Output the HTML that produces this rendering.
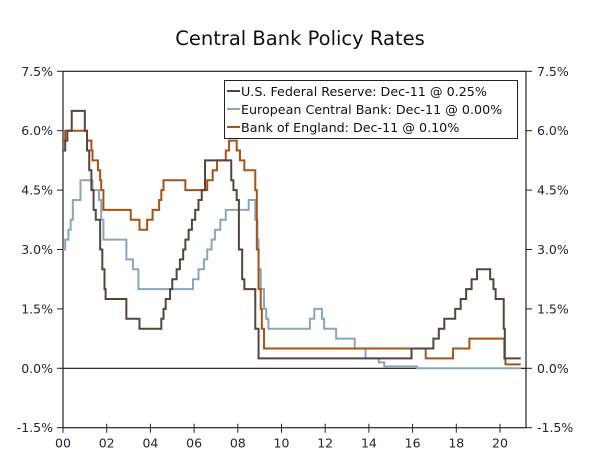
<!DOCTYPE html>
<html><head><meta charset="utf-8"><style>
body{margin:0;background:#fff;width:600px;height:460px;overflow:hidden}
svg{font-family:"DejaVu Sans","Liberation Sans",sans-serif}
</style></head><body>
<svg id="c" width="600" height="460">
<text x="300" y="45" text-anchor="middle" font-size="19.5" fill="#111">Central Bank Policy Rates</text>
<g id="axes"></g><g id="series"></g>
<g>
<rect x="224.5" y="80.5" width="293" height="58" fill="#fff" stroke="#222"/>
<g><line x1="227" x2="240" y1="91" y2="91" stroke="#54463d" stroke-width="2"/><text x="241" y="96" font-size="12.7" fill="#111">U.S. Federal Reserve: Dec-11 @ 0.25%</text></g>
<g><line x1="227" x2="240" y1="109" y2="109" stroke="#8aa6bb" stroke-width="2"/><text x="241" y="114" font-size="12.7" fill="#111">European Central Bank: Dec-11 @ 0.00%</text></g>
<g><line x1="227" x2="240" y1="127" y2="127" stroke="#a65313" stroke-width="2"/><text x="241" y="132" font-size="12.7" fill="#111">Bank of England: Dec-11 @ 0.10%</text></g>
</g>
</svg>
<script>
const yTicks=[7.5,6.0,4.5,3.0,1.5,0.0,-1.5];
const xTicks=[2000,2002,2004,2006,2008,2010,2012,2014,2016,2018,2020];
const fedT=[2000,2000.1,2000.2,2000.4,2001.0,2001.1,2001.2,2001.3,2001.4,2001.5,2001.7,2001.8,2001.9,2001.95,2002.9,2003.5,2004.5,2004.6,2004.7,2004.9,2005.0,2005.2,2005.35,2005.5,2005.6,2005.75,2005.9,2006.05,2006.2,2006.35,2006.5,2007.7,2007.8,2007.95,2008.05,2008.2,2008.3,2008.8,2008.95,2015.95,2016.95,2017.2,2017.45,2017.95,2018.2,2018.45,2018.7,2018.95,2019.55,2019.7,2019.8,2020.17,2020.22,2020.95];
const fedV=[5.5,5.75,6.0,6.5,6.0,5.5,5.0,4.5,4.0,3.75,3.0,2.5,2.0,1.75,1.25,1.0,1.25,1.5,1.75,2.0,2.25,2.5,2.75,3.0,3.25,3.5,3.75,4.0,4.25,4.5,5.25,4.75,4.5,4.25,3.0,2.25,2.0,1.0,0.25,0.5,0.75,1.0,1.25,1.5,1.75,2.0,2.25,2.5,2.25,2.0,1.75,1.0,0.25,0.25];
const ecbT=[2000,2000.1,2000.25,2000.35,2000.45,2000.8,2001.35,2001.65,2001.75,2001.85,2002.9,2003.2,2003.45,2005.95,2006.2,2006.45,2006.6,2006.8,2006.95,2007.2,2007.45,2008.5,2008.8,2008.9,2008.95,2009.05,2009.2,2009.3,2009.4,2011.3,2011.5,2011.85,2011.95,2012.5,2013.35,2013.85,2014.45,2014.7,2016.2,2020.95];
const ecbV=[3.0,3.25,3.5,3.75,4.25,4.75,4.5,4.25,3.75,3.25,2.75,2.5,2.0,2.25,2.5,2.75,3.0,3.25,3.5,3.75,4.0,4.25,3.75,3.25,2.5,2.0,1.5,1.25,1.0,1.25,1.5,1.25,1.0,0.75,0.5,0.25,0.15,0.05,0.0,0.0];
const boeT=[2000,2000.1,2001.1,2001.3,2001.35,2001.6,2001.7,2001.75,2001.85,2003.1,2003.5,2003.85,2004.1,2004.4,2004.5,2004.6,2005.6,2006.6,2006.85,2007.05,2007.45,2007.6,2007.95,2008.1,2008.3,2008.8,2008.87,2008.95,2009.05,2009.1,2009.2,2016.6,2017.85,2018.6,2020.2,2020.25,2020.95];
const boeV=[5.75,6.0,5.75,5.5,5.25,5.0,4.75,4.5,4.0,3.75,3.5,3.75,4.0,4.25,4.5,4.75,4.5,4.75,5.0,5.25,5.5,5.75,5.5,5.25,5.0,4.5,3.0,2.0,1.5,1.0,0.5,0.25,0.5,0.75,0.25,0.1,0.1];
const X0=63,X1=526,Y0=71.3,Y1=427.7;
const xs=t=>X0+(t-2000)*(500-63)/20;
const ys=v=>Y0+(7.5-v)*(Y1-Y0)/9;
const NS='http://www.w3.org/2000/svg';
const ax=document.getElementById('axes'),sr=document.getElementById('series');
function mk(tag,at,p){const e=document.createElementNS(NS,tag);for(const k in at)e.setAttribute(k,at[k]);p.appendChild(e);return e;}
const frame=mk('rect',{x:X0,y:Y0,width:X1-X0,height:Y1-Y0,fill:'none',stroke:'#222','stroke-width':1.2},ax);


const z=mk('line',{x1:X0,x2:X1,y1:ys(0),y2:ys(0),stroke:'#111','stroke-width':1.2},ax);


yTicks.forEach(v=>{const y=ys(v);
mk('line',{x1:X0-6,x2:X0,y1:y,y2:y,stroke:'#222'},ax);
mk('line',{x1:X1,x2:X1+6,y1:y,y2:y,stroke:'#222'},ax);
const l=mk('text',{x:X0-10,y:y+4.5,'text-anchor':'end','font-size':12.5,fill:'#1b2338'},ax);l.textContent=v.toFixed(1)+'%';


const r=mk('text',{x:X1+11,y:y+4.5,'font-size':12.5,fill:'#1b2338'},ax);r.textContent=v.toFixed(1)+'%';

});
xTicks.forEach(t=>{const x=xs(t);
mk('line',{x1:x,x2:x,y1:Y1-4,y2:Y1+5,stroke:'#222'},ax);
const l=mk('text',{x:x,y:Y1+20,'text-anchor':'middle','font-size':12.5,fill:'#1b2338'},ax);l.textContent=String(t%100).padStart(2,'0');

});
function step(T,V,col,name){let d='M'+xs(T[0])+','+ys(V[0]);
for(let i=1;i<T.length;i++){d+=' H'+xs(T[i])+' V'+ys(V[i]);}
const p=mk('path',{d:d,fill:'none',stroke:col,'stroke-width':2},sr);

}
step(ecbT,ecbV,'#8aa6bb','ecb-line');
step(boeT,boeV,'#a65313','boe-line');
step(fedT,fedV,'#54463d','fed-line');
</script>
</body></html>
